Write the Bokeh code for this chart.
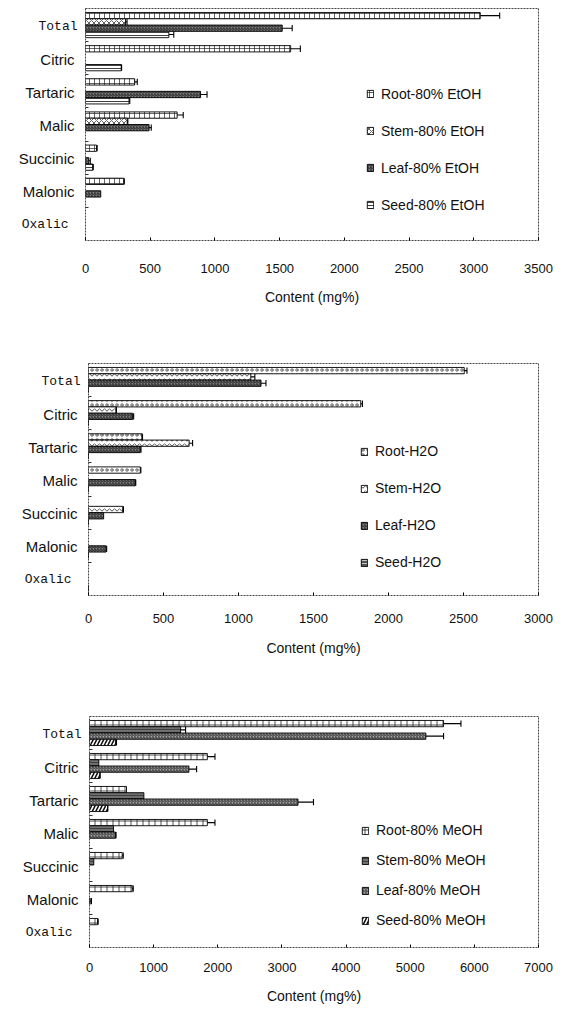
from bokeh.plotting import figure
from bokeh.models import Range1d, FixedTicker, Legend, LegendItem, ColumnDataSource
from bokeh.layouts import column, row
from bokeh.embed import file_html
from bokeh.resources import INLINE
from bokeh.core.properties import value

# ---------------- data (mg%) ----------------
categories = ["Total", "Citric", "Tartaric", "Malic", "Succinic", "Malonic", "Oxalic"]
axis_title = "Content (mg%)"

# 80% EtOH extracts
etoh_names = ["Root-80% EtOH", "Stem-80% EtOH", "Leaf-80% EtOH", "Seed-80% EtOH"]
etoh_root = [3050, 1585, 380, 708, 85, 295, 0]
etoh_root_err = [150, 75, 20, 47, 5, 5, 0]
etoh_stem = [309, 0, 0, 322, 0, 0, 0]
etoh_stem_err = [12, 0, 0, 5, 0, 0, 0]
etoh_leaf = [1520, 0, 889, 491, 25, 118, 0]
etoh_leaf_err = [77, 0, 50, 17, 12, 0, 0]
etoh_seed = [644, 276, 336, 0, 55, 0, 0]
etoh_seed_err = [38, 3, 6, 0, 5, 0, 0]
etoh_ticks = [0, 500, 1000, 1500, 2000, 2500, 3000, 3500]

# H2O extracts
h2o_names = ["Root-H2O", "Stem-H2O", "Leaf-H2O", "Seed-H2O"]
h2o_root = [2505, 1815, 356, 345, 0, 0, 0]
h2o_root_err = [18, 11, 4, 4, 0, 0, 0]
h2o_stem = [1082, 183, 671, 0, 228, 0, 0]
h2o_stem_err = [27, 3, 23, 0, 5, 0, 0]
h2o_leaf = [1150, 294, 345, 312, 101, 117, 0]
h2o_leaf_err = [33, 7, 5, 3, 0, 4, 0]
h2o_seed = [0, 0, 0, 0, 0, 0, 0]
h2o_seed_err = [0, 0, 0, 0, 0, 0, 0]
h2o_ticks = [0, 500, 1000, 1500, 2000, 2500, 3000]

# 80% MeOH extracts
meoh_names = ["Root-80% MeOH", "Stem-80% MeOH", "Leaf-80% MeOH", "Seed-80% MeOH"]
meoh_root = [5520, 1837, 577, 1837, 510, 666, 125]
meoh_root_err = [271, 119, 0, 119, 16, 16, 10]
meoh_stem = [1420, 145, 848, 375, 67, 0, 0]
meoh_stem_err = [78, 0, 0, 0, 0, 0, 0]
meoh_leaf = [5244, 1550, 3251, 406, 0, 10, 0]
meoh_leaf_err = [276, 120, 241, 8, 0, 20, 0]
meoh_seed = [406, 161, 281, 0, 0, 0, 0]
meoh_seed_err = [15, 5, 5, 0, 0, 0, 0]
meoh_ticks = [0, 1000, 2000, 3000, 4000, 5000, 6000, 7000]

# ---------------- styles ----------------
SANS = "Liberation Sans"
MONO = "Liberation Mono"
BAR_H = 0.19
GAP = 4  # main figure left border (holds the inner tick axis)

leaf_style = dict(fill_color="#7f7f7f", hatch_pattern="/", hatch_scale=3, hatch_weight=0.8, hatch_color="#111111")
etoh_styles = [
    dict(fill_color="white", hatch_pattern="+", hatch_scale=5, hatch_weight=0.7, hatch_color="#222222"),
    dict(fill_color="white", hatch_pattern="x", hatch_scale=5, hatch_weight=0.7, hatch_color="#222222"),
    leaf_style,
    dict(fill_color="white", hatch_pattern="-", hatch_scale=3, hatch_weight=0.8, hatch_color="#111111"),
]
h2o_styles = [
    dict(fill_color="white", hatch_pattern="o", hatch_scale=5, hatch_weight=0.7, hatch_color="#222222"),
    dict(fill_color="white", hatch_pattern="v", hatch_scale=5, hatch_weight=0.8, hatch_color="#222222"),
    leaf_style,
    dict(fill_color="#555555", hatch_pattern="-", hatch_scale=3, hatch_weight=0.8, hatch_color="#dddddd"),
]
meoh_styles = [
    dict(fill_color="white", hatch_pattern="+", hatch_scale=6, hatch_weight=0.8, hatch_color="#222222"),
    dict(fill_color="#6f6f6f", hatch_pattern="-", hatch_scale=3, hatch_weight=0.8, hatch_color="#333333"),
    dict(fill_color="#a0a0a0", hatch_pattern="/", hatch_scale=3, hatch_weight=0.8, hatch_color="#222222"),
    dict(fill_color="white", hatch_pattern="/", hatch_scale=7, hatch_weight=1.6, hatch_color="#111111"),
]

# label font per category: (font, size, gap from frame edge in px)
label_style = {"Total": (MONO, "13px", 8), "Oxalic": (MONO, "13px", 17)}
default_label = (SANS, "15px", 11)


def panel(series, errors, names, styles, ticks, geom, leg):
    n = len(categories)
    yr = Range1d(n, 0)
    common = dict(frame_height=geom["fh"], y_range=yr, output_backend="svg", toolbar_location=None,
                  min_border_top=geom["top"], min_border_bottom=geom["bottom"],
                  background_fill_color="white", border_fill_color="white")

    # ---- category label strip ----
    lw = geom["left"] - GAP
    lab = figure(frame_width=lw, x_range=Range1d(0, lw), min_border_left=0, min_border_right=0,
                 x_axis_location=None, y_axis_location=None, **common)
    lab.outline_line_color = None
    lab.xgrid.visible = False
    lab.ygrid.visible = False
    groups = {}
    for i, c in enumerate(categories):
        font, size, gap = label_style.get(c, default_label)
        g = groups.setdefault((font, size), dict(x=[], y=[], t=[]))
        g["x"].append(lw + GAP - gap)
        g["y"].append(i + 0.5)
        g["t"].append(c)
    for (font, size), g in groups.items():
        lab.text(x=g["x"], y=g["y"], text=g["t"], text_align="right", text_baseline="middle",
                 y_offset=1, text_font=value(font), text_font_size=value(size), text_color="#111111")

    # ---- bar chart ----
    p = figure(frame_width=geom["fw"], x_range=Range1d(ticks[0], ticks[-1]),
               min_border_left=GAP, min_border_right=geom["right"], **common)
    p.xgrid.visible = False
    p.ygrid.visible = False
    p.outline_line_color = "#444444"
    p.outline_line_dash = "2 1"
    p.outline_line_width = 1

    renderers = []
    m = len(series)
    for k, (vals, errs, st) in enumerate(zip(series, errors, styles)):
        off = (k - (m - 1) / 2) * BAR_H
        ys = [i + 0.5 + off for i in range(n)]
        keep = [i for i in range(n) if vals[i] > 0] or list(range(n))
        src = ColumnDataSource(dict(y=[ys[i] for i in keep], right=[vals[i] for i in keep]))
        r = p.hbar(y="y", left=0, right="right", height=BAR_H, source=src,
                   line_color="black", line_width=0.9, **st)
        renderers.append(r)
        ek = [i for i in range(n) if errs[i] > 0]
        if ek:
            x0 = [vals[i] for i in ek]
            x1 = [vals[i] + errs[i] for i in ek]
            ye = [ys[i] for i in ek]
            p.segment(x0=x0, y0=ye, x1=x1, y1=ye, line_color="black", line_width=1.1)
            p.segment(x0=x1, y0=[y - BAR_H * 0.5 for y in ye], x1=x1,
                      y1=[y + BAR_H * 0.5 for y in ye], line_color="black", line_width=1.1)

    ax = p.xaxis[0]
    ax.ticker = FixedTicker(ticks=ticks)
    ax.minor_tick_line_color = None
    ax.major_tick_in = 3
    ax.major_tick_out = 0
    ax.axis_line_color = None
    ax.major_label_text_font = SANS
    ax.major_label_text_font_size = "13px"
    ax.major_label_text_color = "#111111"
    ax.major_label_standoff = geom["lab_so"]
    ax.axis_label = axis_title
    ax.axis_label_text_font = SANS
    ax.axis_label_text_font_style = "normal"
    ax.axis_label_text_font_size = "14px"
    ax.axis_label_text_color = "#111111"
    ax.axis_label_standoff = geom["title_so"]

    ya = p.yaxis[0]
    ya.ticker = FixedTicker(ticks=[], minor_ticks=list(range(1, n)))
    ya.major_tick_line_color = None
    ya.minor_tick_in = 3
    ya.minor_tick_out = 0
    ya.minor_tick_line_color = "#333333"
    ya.axis_line_color = None
    ya.major_label_standoff = 0

    h = 16
    lx, first_c, sc = leg
    ly = geom["fh"] - first_c - h / 2 - 3 * sc
    legend = Legend(items=[LegendItem(label=nm, renderers=[r]) for nm, r in zip(names, renderers)],
                    location=(lx, ly), orientation="vertical",
                    glyph_width=8, glyph_height=9, label_height=9, spacing=int(round(sc - h)),
                    padding=0, margin=0, label_standoff=7,
                    label_text_font=SANS, label_text_font_size="14px", label_text_color="#111111",
                    border_line_alpha=0, background_fill_alpha=0)
    p.add_layout(legend)
    return row(lab, p, spacing=0)


p1 = panel([etoh_root, etoh_stem, etoh_leaf, etoh_seed],
           [etoh_root_err, etoh_stem_err, etoh_leaf_err, etoh_seed_err],
           etoh_names, etoh_styles, etoh_ticks,
           dict(fw=453, fh=232, left=85, right=16, top=8, bottom=122, lab_so=23, title_so=13),
           (281, 85, 37.2))
p2 = panel([h2o_root, h2o_stem, h2o_leaf, h2o_seed],
           [h2o_root_err, h2o_stem_err, h2o_leaf_err, h2o_seed_err],
           h2o_names, h2o_styles, h2o_ticks,
           dict(fw=450, fh=232, left=88, right=16, top=1, bottom=120, lab_so=18, title_so=14),
           (272, 89, 36.7))
p3 = panel([meoh_root, meoh_stem, meoh_leaf, meoh_seed],
           [meoh_root_err, meoh_stem_err, meoh_leaf_err, meoh_seed_err],
           meoh_names, meoh_styles, meoh_ticks,
           dict(fw=449, fh=231, left=89, right=16, top=1, bottom=62, lab_so=15, title_so=13),
           (272, 114, 30.0))

layout = column(p1, p2, p3, spacing=0)
open("out.html", "w").write(file_html(layout, INLINE))
